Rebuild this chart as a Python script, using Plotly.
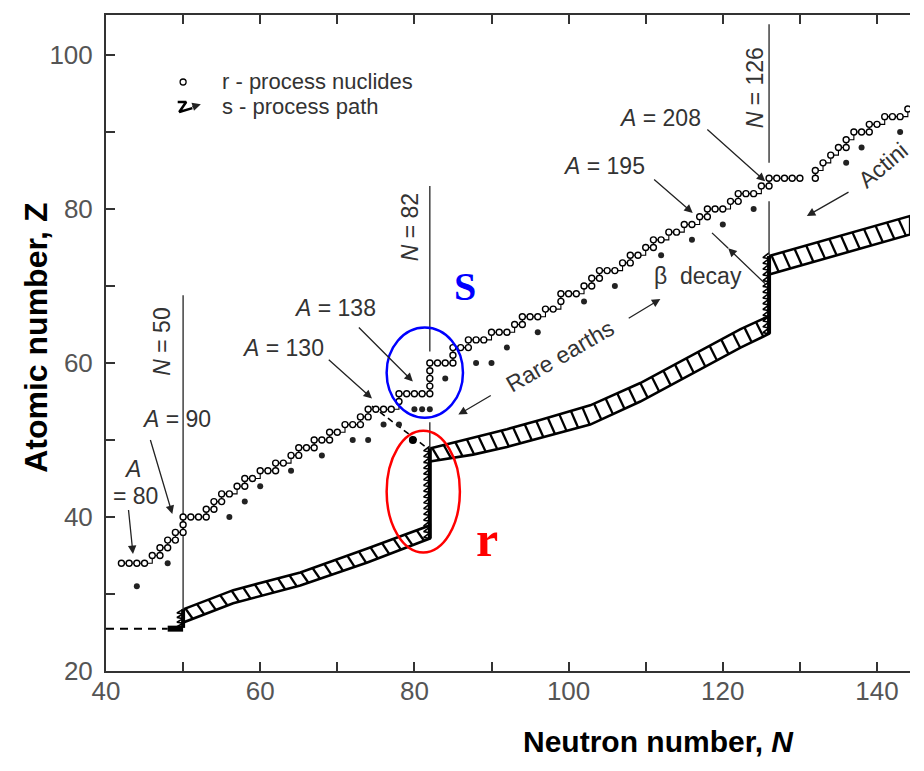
import numpy as np
import plotly.graph_objects as go

# ---------------- data ----------------
# r-process nuclides along the path (neutron number N, atomic number Z)
pathA_N = [42, 43, 44, 45, 46, 47, 47, 48, 48, 49, 49, 50, 50, 50,
           51, 52, 53, 53, 54, 54, 55, 55, 56, 57,
           58, 58, 59, 60, 61, 62, 62, 63, 64, 65,
           65, 66, 67, 67, 68, 69, 69, 70, 71, 72,
           73, 73, 74, 74, 75, 76, 77, 78, 78, 79,
           80, 81, 82, 82, 82, 82, 82, 83, 84, 85,
           85, 85, 86, 87, 87, 88, 89, 90, 91, 92,
           93, 94, 94, 95, 96, 97, 98, 99, 99, 100,
           101, 102, 103, 103, 104, 104, 105, 106, 107, 108,
           108, 109, 110, 111, 111, 112, 113, 114, 115, 116,
           117, 118, 118, 119, 120, 121, 122, 122, 123, 124,
           125, 126, 126, 127, 128, 129, 130]
pathA_Z = [34, 34, 34, 34, 35, 35, 36, 36, 37, 37, 38, 38, 39, 40,
           40, 40, 40, 41, 41, 42, 42, 43, 43, 44,
           44, 45, 45, 46, 46, 46, 47, 47, 48, 48,
           49, 49, 49, 50, 50, 50, 51, 51, 52, 52,
           52, 53, 53, 54, 54, 54, 54, 55, 56, 56,
           56, 56, 56, 57, 58, 59, 60, 60, 60, 60,
           61, 62, 62, 62, 63, 63, 63, 64, 64, 64,
           65, 65, 66, 66, 66, 67, 67, 68, 69, 69,
           69, 70, 70, 71, 71, 72, 72, 72, 73, 73,
           74, 74, 75, 75, 76, 76, 77, 77, 78, 78,
           79, 79, 80, 80, 80, 81, 81, 82, 82, 82,
           83, 83, 84, 84, 84, 84, 84]
pathB_N = [132, 132, 133, 134, 135, 136, 136, 137, 138, 139, 139, 140, 141, 142, 143, 144]
pathB_Z = [84, 85, 86, 87, 88, 88, 89, 90, 90, 90, 91, 91, 92, 92, 92, 93]

# isolated nuclides (filled dots)
iso_N = [44, 48, 56, 58, 60, 64, 68, 72, 74, 76, 78, 80, 81, 82, 84, 88, 90, 92, 96, 102,
         106, 112, 116, 120, 124, 136, 138, 143]
iso_Z = [31, 34, 40, 42, 44, 46, 48, 50, 50, 52, 52, 54, 54, 54, 58, 60, 60, 62, 64, 68,
         70, 74, 76, 78, 80, 86, 88, 90]

# hatched path bands: N and upper / lower Z edges
band1_N = [50, 56.5, 65.2, 73.9, 82]
band1_up = [28.0, 30.5, 32.8, 35.9, 38.9]
band1_lo = [26.3, 28.8, 31.1, 34.1, 37.2]
band2_N = [82, 87.6, 92, 96.3, 102.8, 109.3, 115.7, 122.3, 126]
band2_up = [48.9, 50.3, 51.4, 52.6, 54.5, 57.4, 60.8, 64.4, 66.1]
band2_lo = [47.2, 48.1, 49.1, 50.2, 52.0, 55.0, 58.4, 62.0, 63.8]
band3_N = [126, 135, 144.3]
band3_up = [73.9, 76.5, 79.1]
band3_lo = [71.5, 74.1, 76.7]

# vertical waiting-point steps (N, Z from, Z to)
step_N = [50, 82, 126]
step_Z0 = [25.6, 37.2, 63.8]
step_Z1 = [28.0, 48.9, 73.9]

# iron seed line
seed_Z = 25.5
seed_N = [40, 48]
seed_blob_N = [48, 50]

# magic neutron numbers and the Z-extent of the drawn lines
magic_N = [50, 82, 82, 126, 126]
magic_Zlo = [28.0, 61.5, 48.9, 86.0, 74.0]
magic_Zhi = [68.8, 83.0, 52.3, 104.0, 81.0]

# beta-decay dashed line towards N = 82
decay_N = [74.5, 82]
decay_Z = [54.4, 48.7]

x_tick_vals = [40, 50, 60, 70, 80, 90, 100, 110, 120, 130, 140]
x_tick_text = ["40", "", "60", "", "80", "", "100", "", "120", "", "140"]
y_tick_vals = [20, 30, 40, 50, 60, 70, 80, 90, 100]
y_tick_text = ["20", "", "40", "", "60", "", "80", "", "100"]

FONT = "Liberation Sans, Arial, sans-serif"
TXT = "#333333"

fig = go.Figure()

# ---------------- hatched bands ----------------
for Ns, up, lo in [(band1_N, band1_up, band1_lo),
                   (band2_N, band2_up, band2_lo),
                   (band3_N, band3_up, band3_lo)]:
    xs = list(Ns) + list(Ns)[::-1] + [Ns[0]]
    ys = list(up) + list(lo)[::-1] + [up[0]]
    fig.add_trace(go.Scatter(
        x=xs, y=ys, mode="lines", fill="toself", fillcolor="white",
        line=dict(color="black", width=2.6), hoverinfo="skip", showlegend=False))
    # hatch strokes across the band
    hx, hy = [], []
    slant = 0.95
    n = Ns[0] + 0.3
    while n + slant < Ns[-1] - 0.1:
        hx += [n, n + slant, None]
        hy += [float(np.interp(n, Ns, up)), float(np.interp(n + slant, Ns, lo)), None]
        n += 1.5
    fig.add_trace(go.Scatter(x=hx, y=hy, mode="lines",
                             line=dict(color="black", width=2.3),
                             hoverinfo="skip", showlegend=False))

# ---------------- vertical saw-tooth steps ----------------
for n, z0, z1 in zip(step_N, step_Z0, step_Z1):
    xs, ys = [], []
    z = z0
    tooth = 0.75 if n != 50 else 0.6
    while z < z1 - 0.2:
        xs += [n, n - 0.8, n]
        ys += [z, z + 0.15, z + tooth]
        z += tooth
    fig.add_trace(go.Scatter(x=xs, y=ys, mode="lines",
                             line=dict(color="black", width=1.6),
                             hoverinfo="skip", showlegend=False))
    fig.add_trace(go.Scatter(x=[n, n], y=[z0, z1], mode="lines",
                             line=dict(color="black", width=4),
                             hoverinfo="skip", showlegend=False))

# seed line (dashed) and blob
fig.add_trace(go.Scatter(x=seed_N, y=[seed_Z, seed_Z], mode="lines",
                         line=dict(color="black", width=2, dash="8px,6px"),
                         hoverinfo="skip", showlegend=False))
fig.add_trace(go.Scatter(x=seed_blob_N, y=[seed_Z, seed_Z], mode="lines",
                         line=dict(color="black", width=6),
                         hoverinfo="skip", showlegend=False))

# ---------------- magic number lines ----------------
for n, zl, zh in zip(magic_N, magic_Zlo, magic_Zhi):
    fig.add_trace(go.Scatter(x=[n, n], y=[zl, zh], mode="lines",
                             line=dict(color="#333333", width=1.4),
                             hoverinfo="skip", showlegend=False))

# dashed decay line
fig.add_trace(go.Scatter(x=decay_N, y=decay_Z, mode="lines",
                         line=dict(color="black", width=1.6, dash="6px,4px"),
                         hoverinfo="skip", showlegend=False))
fig.add_trace(go.Scatter(x=[79.8], y=[50.0], mode="markers",
                         marker=dict(color="black", size=8),
                         hoverinfo="skip", showlegend=False))

# ---------------- r-process nuclides ----------------
for Ns, Zs in [(pathA_N, pathA_Z), (pathB_N, pathB_Z)]:
    fig.add_trace(go.Scatter(
        x=Ns, y=Zs, mode="lines+markers", line=dict(color="black", width=1.1, shape="hv"),
        marker=dict(symbol="circle", size=6, color="white",
                    line=dict(color="black", width=1.4)),
        hoverinfo="skip", showlegend=False, cliponaxis=True))
fig.add_trace(go.Scatter(
    x=iso_N, y=iso_Z, mode="markers",
    marker=dict(symbol="circle", size=6, color="#222222"),
    hoverinfo="skip", showlegend=False))

# legend symbols
fig.add_trace(go.Scatter(x=[50.0], y=[96.5], mode="markers",
                         marker=dict(symbol="circle", size=6, color="white",
                                     line=dict(color="black", width=1.3)),
                         hoverinfo="skip", showlegend=False))
fig.add_trace(go.Scatter(x=[49.3, 50.4, 49.5, 51.2], y=[93.9, 93.9, 92.6, 93.1], mode="lines",
                         line=dict(color="black", width=2.5),
                         hoverinfo="skip", showlegend=False))

annotations = []


def txt(x, y, s, size=23, angle=0, color=TXT, xanchor="center", family=FONT):
    annotations.append(dict(x=x, y=y, xref="x", yref="y", text=s, showarrow=False,
                            textangle=angle, xanchor=xanchor, yanchor="middle",
                            font=dict(family=family, size=size, color=color)))


def arrow(tx, ty, hx, hy, head=2):
    annotations.append(dict(x=hx, y=hy, ax=tx, ay=ty, xref="x", yref="y",
                            axref="x", ayref="y", text="", showarrow=True,
                            arrowhead=head, arrowsize=1.3, arrowwidth=1.3,
                            arrowcolor="#222222", standoff=0))


# legend texts
txt(54.8, 96.5, "r - process nuclides", size=22, xanchor="left")
txt(54.8, 93.3, "s - process path", size=22, xanchor="left")
arrow(51.0, 93.2, 52.3, 93.6)

# A labels
txt(111.9, 91.8, "<i>A</i> = 208")
arrow(117.8, 90.5, 125.5, 83.6)
txt(104.6, 85.6, "<i>A</i> = 195")
arrow(110.9, 84.0, 116.1, 79.5)
txt(69.7, 67.1, "<i>A</i> = 138")
arrow(72.6, 64.8, 79.8, 57.6)
txt(63.0, 61.9, "<i>A</i> = 130")
arrow(68.7, 60.6, 74.5, 55.4)
txt(49.2, 52.7, "<i>A</i> = 90")
arrow(45.7, 50.2, 48.6, 40.4)
txt(43.4, 46.3, "<i>A</i>")
txt(43.8, 42.7, "= 80")
arrow(42.9, 41.1, 43.5, 35.2)

# magic number labels
txt(47.3, 62.8, "<i>N</i> = 50", size=23, angle=-90)
txt(79.4, 77.6, "<i>N</i> = 82", size=23, angle=-90)
txt(124.2, 95.7, "<i>N</i> = 126", size=23, angle=-90)

# beta decay
txt(116.8, 71.3, "β  decay")
arrow(125.7, 70.1, 120.7, 74.9)
fig.add_trace(go.Scatter(x=[120.7, 118.6], y=[74.9, 76.9], mode="lines",
                         line=dict(color="#222222", width=1.3),
                         hoverinfo="skip", showlegend=False))

# rare earths
txt(98.9, 60.9, "Rare earths", angle=-30)
arrow(90.1, 55.9, 85.7, 53.3)
arrow(107.6, 65.7, 111.9, 68.3)

# actinides (cut at the right edge)
txt(140.8, 85.7, "Actini", angle=-40)
arrow(136.5, 82.3, 130.9, 79.1)

# S / r markers
txt(86.6, 70.0, "<b>S</b>", size=40, color="#0000ff",
    family="Liberation Serif, Times New Roman, serif")
txt(89.4, 37.2, "<b>r</b>", size=50, color="#ff0000",
    family="Liberation Serif, Times New Roman, serif")

# axis titles
annotations.append(dict(x=0.687, y=-0.108, xref="paper", yref="paper",
                        xanchor="center", yanchor="middle",
                        text="<b>Neutron number, <i>N</i></b>", showarrow=False,
                        font=dict(family=FONT, size=30, color="black")))
annotations.append(dict(x=-0.087, y=0.508, xref="paper", yref="paper",
                        xanchor="center", yanchor="middle",
                        text="<b>Atomic number, Z</b>", showarrow=False, textangle=-90,
                        font=dict(family=FONT, size=32, color="black")))

shapes = [
    dict(type="circle", xref="x", yref="y", x0=76.4, x1=86.3, y0=52.9, y1=64.6,
         line=dict(color="#0000ff", width=2.5)),
    dict(type="circle", xref="x", yref="y", x0=76.4, x1=85.9, y0=35.4, y1=51.2,
         line=dict(color="#ff0000", width=2.5)),
]

# the page body adds an 8 px margin, so the figure is 8 px smaller on each side
fig.update_layout(
    width=916, height=763, autosize=False,
    margin=dict(l=98, r=14, t=5, b=100),
    paper_bgcolor="white", plot_bgcolor="white",
    showlegend=False,
    annotations=annotations, shapes=shapes,
    xaxis=dict(range=[40, 144.28], tickvals=x_tick_vals, ticktext=x_tick_text,
               ticks="inside", ticklen=9, tickwidth=1.5, tickcolor="#333333",
               showline=True, linecolor="#333333", linewidth=2, mirror="ticks",
               showgrid=False, zeroline=False, ticklabelstandoff=-4,
               tickfont=dict(family=FONT, size=26, color="#555555")),
    yaxis=dict(range=[20, 105.2], tickvals=y_tick_vals, ticktext=y_tick_text,
               ticks="inside", ticklen=9, tickwidth=1.5, tickcolor="#333333",
               showline=True, linecolor="#333333", linewidth=2, mirror=False,
               showgrid=False, zeroline=False, ticklabelstandoff=6,
               tickfont=dict(family=FONT, size=26, color="#555555")),
)

fig.write_html("out.html")
